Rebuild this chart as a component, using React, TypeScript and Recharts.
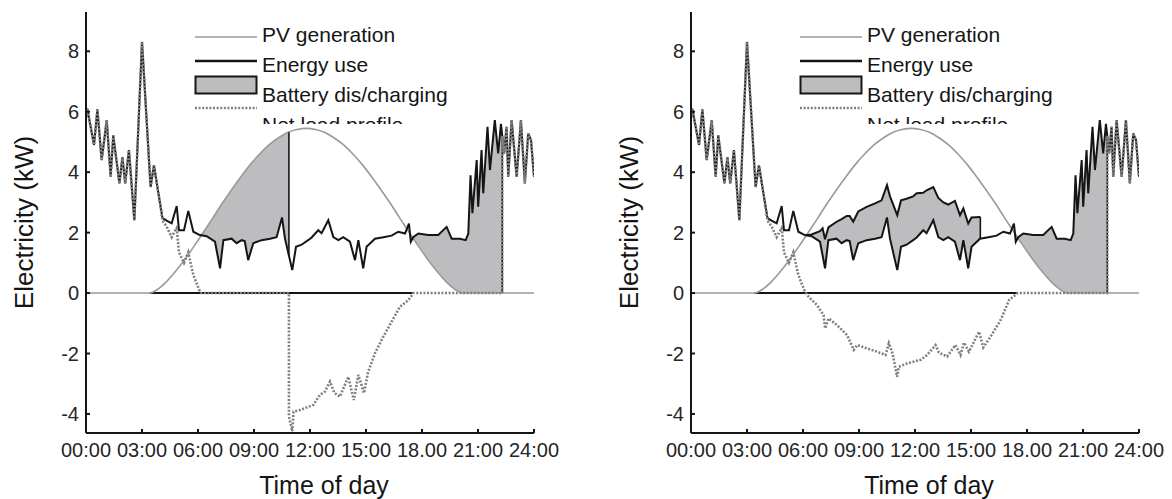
import React from 'react';
import { ComposedChart, Line, Area, XAxis, YAxis } from 'recharts';

// axis ticks and legend text
const HOUR_TICKS = [0, 3, 6, 9, 12, 15, 18, 21, 24];
const HOUR_LABELS = ['00:00', '03:00', '06:00', '09:00', '12:00', '15:00', '18.00', '21:00', '24:00'];
const KW_TICKS = [-4, -2, 0, 2, 4, 6, 8];
const LEGEND_NAMES = ['PV generation', 'Energy use', 'Battery dis/charging', 'Net load profile'];

type Pair = [number, number]; // [hour, kW]
type Band = [number, number, number]; // [hour, low kW, high kW]

const PV_GENERATION: Pair[] = [
  [0, 0], [3.4, 0], [3.8, 0.11], [4.3, 0.37], [4.8, 0.72], [5.3, 1.12], [5.8, 1.56], [6.3, 2.02],
  [6.8, 2.49], [7.3, 2.97], [7.8, 3.42], [8.3, 3.85], [8.8, 4.25], [9.3, 4.6], [9.8, 4.9], [10.3, 5.13],
  [10.8, 5.31], [11.3, 5.41], [11.8, 5.45], [12.3, 5.41], [12.8, 5.31], [13.3, 5.13], [13.8, 4.9],
  [14.3, 4.6], [14.8, 4.25], [15.3, 3.85], [15.8, 3.42], [16.3, 2.97], [16.8, 2.49], [17.3, 2.02],
  [17.8, 1.56], [18.3, 1.12], [18.8, 0.72], [19.3, 0.37], [19.8, 0.11], [20.2, 0], [24, 0],
];

const ENERGY_USE: Pair[] = [
  [0, 5.8], [0.07, 6.1], [0.43, 4.9], [0.61, 6.08], [0.84, 4.4], [1.11, 5.72], [1.32, 3.85], [1.46, 5.22],
  [1.79, 3.63], [1.95, 4.5], [2.1, 3.63], [2.3, 4.73], [2.59, 2.41], [3.0, 8.31], [3.46, 3.51], [3.64, 4.23],
  [3.88, 3.3], [4.1, 2.48], [4.32, 2.4], [4.59, 2.31], [4.86, 2.88], [4.98, 2.08], [5.25, 2.08], [5.48, 2.72],
  [5.75, 2.03], [6.1, 1.92], [6.46, 1.88], [6.91, 1.7], [7.18, 0.82], [7.36, 1.75], [7.8, 1.8], [8.07, 1.65],
  [8.34, 1.75], [8.5, 1.72], [8.69, 1.09], [8.96, 1.65], [9.41, 1.75], [9.86, 1.8], [10.21, 1.85], [10.5, 2.5],
  [10.66, 1.8], [11.05, 0.76], [11.25, 1.53], [11.55, 1.6], [11.9, 1.75], [12.09, 1.84], [12.44, 2.08],
  [12.62, 1.98], [12.98, 2.41], [13.25, 1.85], [13.52, 1.75], [13.78, 1.85], [14.14, 1.7], [14.41, 1.09],
  [14.59, 1.75], [14.85, 0.82], [15.03, 1.53], [15.48, 1.8], [15.93, 1.85], [16.37, 1.9], [16.73, 2.03],
  [17.09, 1.97], [17.3, 2.3], [17.4, 1.7], [17.53, 1.85], [17.8, 1.97], [18.34, 1.92], [18.87, 1.92],
  [19.32, 2.19], [19.59, 1.8], [20.03, 1.8], [20.34, 1.75], [20.48, 1.97], [20.6, 3.9], [20.7, 2.64],
  [20.93, 4.4], [21.01, 2.86], [21.19, 4.73], [21.28, 3.3], [21.51, 5.5], [21.64, 4.07], [21.9, 5.72],
  [22.08, 4.62], [22.23, 5.6], [22.4, 4.62], [22.53, 5.5], [22.62, 3.85], [22.8, 5.72], [23.07, 3.85],
  [23.3, 5.72], [23.51, 3.63], [23.69, 5.28], [23.84, 5.06], [24, 3.85],
];

// black idle line at 0 kW
const IDLE_LINE: Pair[] = [[3.4, 0], [17.5, 0]];

// net load: shared morning and evening parts, daytime part per panel
const NET_EARLY: Pair[] = [
  [0, 5.8], [0.07, 6.1], [0.43, 4.9], [0.61, 6.08], [0.84, 4.4], [1.11, 5.72], [1.32, 3.85], [1.46, 5.22],
  [1.79, 3.63], [1.95, 4.5], [2.1, 3.63], [2.3, 4.73], [2.59, 2.41], [3.0, 8.31], [3.46, 3.51], [3.64, 4.23],
  [3.88, 3.3], [4.1, 2.4], [4.32, 2.2], [4.59, 1.85], [4.86, 2.15], [4.98, 1.35], [5.25, 1.0], [5.48, 1.35],
  [5.75, 0.6], [6.1, 0.05],
];
const NET_DAY_A: Pair[] = [
  [6.17, 0], [10.87, 0], [10.87, -4.08], [11.05, -4.57], [11.12, -3.92], [11.46, -3.87], [12.18, -3.7],
  [12.53, -3.37], [12.8, -3.26], [13.07, -2.93], [13.3, -3.3], [13.6, -3.43], [14.05, -2.77], [14.35, -3.54],
  [14.59, -2.71], [14.89, -3.31], [15.12, -2.6], [15.48, -1.99], [15.93, -1.44], [16.37, -0.95],
  [16.82, -0.45], [17.27, -0.23], [17.55, 0],
];
const NET_DAY_B: Pair[] = [
  [6.3, -0.12], [6.75, -0.4], [7.1, -0.73], [7.19, -1.17], [7.37, -0.84], [7.82, -1.06], [8.36, -1.39],
  [8.72, -1.88], [8.9, -1.72], [9.43, -1.83], [9.97, -1.94], [10.42, -2.05], [10.6, -1.66], [10.8, -2.0],
  [11.04, -2.77], [11.13, -2.44], [11.57, -2.33], [12.3, -2.21], [12.65, -2.05], [13.1, -1.72],
  [13.28, -1.97], [13.72, -2.1], [14.17, -1.72], [14.44, -2.05], [14.62, -1.64], [14.89, -1.94],
  [15.07, -1.72], [15.43, -1.28], [15.66, -1.8], [16.05, -1.44], [16.59, -0.89], [17.04, -0.23], [17.5, 0],
];
const NET_LATE: Pair[] = [
  [22.3, 0], [22.3, 5.2], [22.4, 4.62], [22.53, 5.5], [22.62, 3.85], [22.8, 5.72], [23.07, 3.85],
  [23.3, 5.72], [23.51, 3.63], [23.69, 5.28], [23.84, 5.06], [24, 3.85],
];

// battery charging bands
const CHARGE_A: Band[] = [
  [6.17, 1.91, 1.91], [6.46, 1.88, 2.17], [6.91, 1.7, 2.6], [7.18, 0.82, 2.85], [7.36, 1.75, 3.02],
  [7.8, 1.8, 3.42], [8.07, 1.65, 3.65], [8.34, 1.75, 3.88], [8.5, 1.72, 4.01], [8.69, 1.09, 4.16],
  [8.96, 1.65, 4.36], [9.41, 1.75, 4.67], [9.86, 1.8, 4.93], [10.21, 1.85, 5.09], [10.5, 2.5, 5.2],
  [10.66, 1.8, 5.26], [10.87, 1.24, 5.32],
];
const CHARGE_B: Band[] = [
  [6.17, 1.91, 1.91], [6.46, 1.88, 1.94], [6.91, 1.7, 2.05], [7.05, 1.24, 2.14], [7.18, 0.82, 1.78],
  [7.36, 1.75, 2.17], [7.8, 1.8, 2.36], [8.07, 1.65, 2.45], [8.34, 1.75, 2.55], [8.5, 1.72, 2.55],
  [8.69, 1.09, 2.36], [8.96, 1.65, 2.7], [9.41, 1.75, 2.85], [9.86, 1.8, 2.97], [10.21, 1.85, 3.07],
  [10.5, 2.5, 3.57], [10.66, 1.8, 3.2], [11.05, 0.76, 2.58], [11.25, 1.53, 3.07], [11.55, 1.6, 3.12],
  [11.9, 1.75, 3.2], [12.09, 1.84, 3.3], [12.44, 2.08, 3.32], [12.62, 1.98, 3.4], [12.98, 2.41, 3.51],
  [13.25, 1.85, 3.15], [13.52, 1.75, 3.0], [13.78, 1.85, 2.93], [14.14, 1.7, 3.05], [14.41, 1.09, 2.58],
  [14.59, 1.75, 2.8], [14.85, 0.82, 2.3], [15.03, 1.53, 2.5], [15.5, 1.8, 2.52],
];
// battery discharging band (evening, both panels)
const DISCHARGE: Band[] = [
  [17.5, 1.82, 1.82], [17.53, 1.81, 1.85], [17.8, 1.56, 1.97], [18.34, 1.09, 1.92], [18.87, 0.67, 1.92],
  [19.32, 0.36, 2.19], [19.59, 0.22, 1.8], [20.03, 0.05, 1.8], [20.34, 0, 1.75], [20.48, 0, 1.97],
  [20.6, 0, 3.9], [20.7, 0, 2.64], [20.93, 0, 4.4], [21.01, 0, 2.86], [21.19, 0, 4.73], [21.28, 0, 3.3],
  [21.51, 0, 5.5], [21.64, 0, 4.07], [21.9, 0, 5.72], [22.08, 0, 4.62], [22.23, 0, 5.6], [22.3, 0, 5.2],
];

const FONT = '"Liberation Sans", Arial, Helvetica, sans-serif';
const PANEL_W = 567;
const PANEL_H = 499;
const BATTERY_FILL = '#bdbdc0';
const PV_COLOR = '#9a9a9a';
const NET_COLOR = '#808080';
const INK = '#151515';

const points = (pairs: Pair[]) => pairs.map(([t, kw]) => ({ t, kw }));
const band = (rows: Band[]) => rows.map(([t, lo, hi]) => ({ t, range: [lo, hi] }));
const bandTop = (rows: Band[]) => rows.map(([t, , hi]) => ({ t, kw: hi }));
const bandEnd = (rows: Band[]) => {
  const [t, lo, hi] = rows[rows.length - 1];
  return [{ t, kw: lo }, { t, kw: hi }];
};

const YTitle = (props: any) => {
  const vb = props.viewBox;
  const cx = vb.x + 33;
  const cy = vb.y + vb.height / 2;
  return (
    <text x={cx} y={cy} transform={`rotate(-90 ${cx} ${cy})`} textAnchor="middle" fontSize={26} fontFamily={FONT} fill={INK}>
      Electricity (kW)
    </text>
  );
};

const XTitle = (props: any) => {
  const vb = props.viewBox;
  return (
    <text x={vb.x + vb.width / 2 + 14} y={494} textAnchor="middle" fontSize={25} fontFamily={FONT} fill={INK}>
      Time of day
    </text>
  );
};

const LegendBox = () => (
  <svg width={PANEL_W} height={124} style={{ position: 'absolute', left: 0, top: 0, pointerEvents: 'none' }}>
    <line x1={195} x2={257} y1={37} y2={37} stroke={PV_COLOR} strokeWidth={1.6} />
    <line x1={195} x2={257} y1={61} y2={61} stroke={INK} strokeWidth={2.5} />
    <rect x={195.5} y={76.5} width={61} height={17} fill={BATTERY_FILL} stroke={INK} strokeWidth={2} />
    <line x1={195} x2={257} y1={108} y2={108} stroke={NET_COLOR} strokeWidth={2.6} strokeDasharray="2 1.6" />
    {LEGEND_NAMES.map((name, i) => (
      <text key={name} x={262} y={42 + i * 30} fontSize={21} fontFamily={FONT} fill={INK}>
        {name}
      </text>
    ))}
  </svg>
);

interface PanelProps {
  charge: Band[];
  chargeOutline: boolean;
  netDay: Pair[];
}

const Panel: React.FC<PanelProps> = ({ charge, chargeOutline, netDay }) => {
  const net = points([...NET_EARLY, ...netDay, ...NET_LATE]);
  return (
    <div style={{ position: 'relative', width: PANEL_W, height: PANEL_H }}>
      <ComposedChart width={PANEL_W} height={PANEL_H} margin={{ top: 12, right: 33, bottom: 0, left: 0 }}>
        <XAxis
          dataKey="t"
          type="number"
          domain={[0, 24]}
          allowDataOverflow
          ticks={HOUR_TICKS}
          interval={0}
          tickFormatter={(v: number) => HOUR_LABELS[HOUR_TICKS.indexOf(v)] ?? ''}
          height={66}
          tickSize={-4}
          tickMargin={14}
          axisLine={{ stroke: INK, strokeWidth: 2 }}
          tickLine={{ stroke: INK, strokeWidth: 2 }}
          tick={{ fontSize: 20, fill: '#262626', fontFamily: FONT }}
          label={XTitle}
        />
        <YAxis
          type="number"
          domain={[-4.63, 9.3]}
          allowDataOverflow
          ticks={KW_TICKS}
          interval={0}
          width={86}
          tickSize={-4}
          tickMargin={11}
          axisLine={{ stroke: INK, strokeWidth: 2 }}
          tickLine={{ stroke: INK, strokeWidth: 2 }}
          tick={{ fontSize: 20, fill: '#262626', fontFamily: FONT }}
          label={YTitle}
        />
        <Area name="charge" data={band(charge)} dataKey="range" type="linear" fill={BATTERY_FILL} fillOpacity={1} stroke="none" isAnimationActive={false} />
        <Area name="discharge" data={band(DISCHARGE)} dataKey="range" type="linear" fill={BATTERY_FILL} fillOpacity={1} stroke="none" isAnimationActive={false} />
        <Line name="idle" data={points(IDLE_LINE)} dataKey="kw" stroke={INK} strokeWidth={2} dot={false} activeDot={false} isAnimationActive={false} />
        <Line name="pv" data={points(PV_GENERATION)} dataKey="kw" type="monotone" stroke={PV_COLOR} strokeWidth={1.6} dot={false} activeDot={false} isAnimationActive={false} />
        {chargeOutline && (
          <Line name="chargeTop" data={bandTop(charge)} dataKey="kw" stroke={INK} strokeWidth={2} dot={false} activeDot={false} isAnimationActive={false} />
        )}
        <Line name="chargeEnd" data={bandEnd(charge)} dataKey="kw" stroke={INK} strokeWidth={1.6} dot={false} activeDot={false} isAnimationActive={false} />
        <Line name="dischargeEnd" data={bandEnd(DISCHARGE)} dataKey="kw" stroke={INK} strokeWidth={1.6} dot={false} activeDot={false} isAnimationActive={false} />
        <Line name="use" data={points(ENERGY_USE)} dataKey="kw" stroke={INK} strokeWidth={2} dot={false} activeDot={false} isAnimationActive={false} />
        <Line name="net" data={net} dataKey="kw" stroke={NET_COLOR} strokeWidth={2.6} strokeDasharray="2 1.6" dot={false} activeDot={false} isAnimationActive={false} />
      </ComposedChart>
      <LegendBox />
    </div>
  );
};

export default function App() {
  return (
    <div style={{ position: 'absolute', left: 0, top: 0, width: 1172, height: 499, background: '#fff', overflow: 'hidden' }}>
      <div style={{ position: 'absolute', left: 0, top: 0 }}>
        <Panel charge={CHARGE_A} chargeOutline={false} netDay={NET_DAY_A} />
      </div>
      <div style={{ position: 'absolute', left: 605, top: 0 }}>
        <Panel charge={CHARGE_B} chargeOutline netDay={NET_DAY_B} />
      </div>
    </div>
  );
}
